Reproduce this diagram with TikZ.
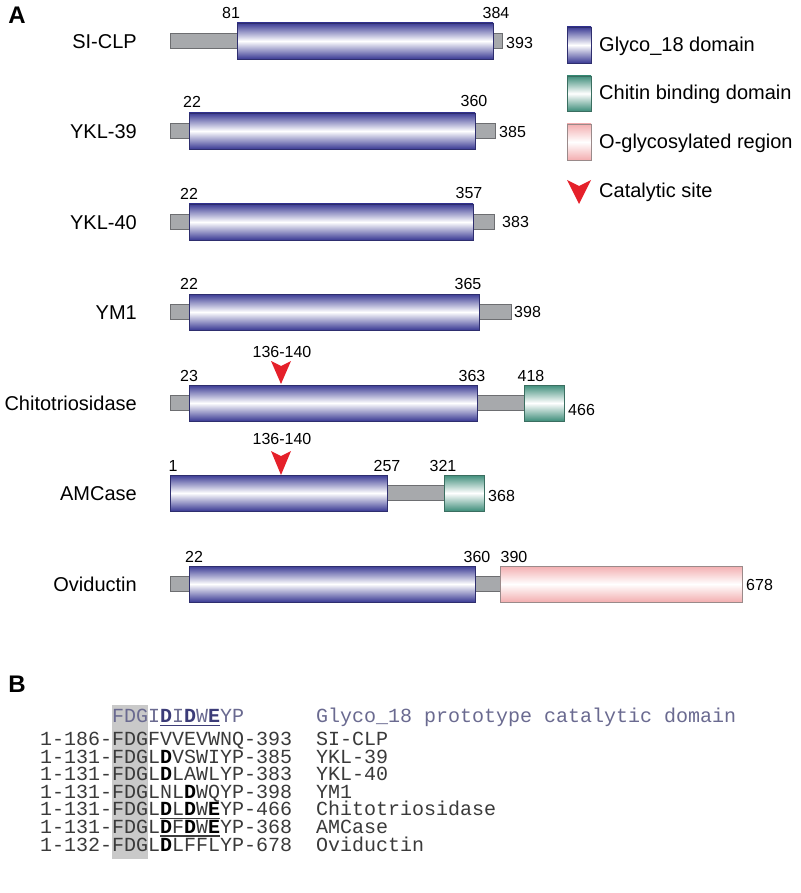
\documentclass[tikz,border=0pt]{standalone}
\usepackage{fontspec}
\setmainfont{Liberation Sans}
\setmonofont{Liberation Mono}
\definecolor{glyD}{HTML}{3A3A94}
\definecolor{glyB}{HTML}{2E2E6E}
\definecolor{chiD}{HTML}{3F8E7B}
\definecolor{chiB}{HTML}{3A6E60}
\definecolor{ogD}{HTML}{F3AEB0}
\definecolor{ogB}{HTML}{9A8A8A}
\definecolor{lnkF}{HTML}{A7A9AC}
\definecolor{lnkB}{HTML}{6D6E71}
\definecolor{catR}{HTML}{E5202A}
\definecolor{protoC}{HTML}{6A6A90}
\definecolor{protoB}{HTML}{3C3C78}
\definecolor{seqC}{HTML}{3A3A3A}
\definecolor{boxG}{HTML}{C9C9C9}
\begin{document}
\begin{tikzpicture}[x=1pt,y=-1pt,
  lbl/.style={font=\fontsize{20}{24}\selectfont, anchor=east, inner sep=0, text height=14.3pt, text depth=0pt},
  leg/.style={font=\fontsize{20}{24}\selectfont, anchor=west, inner sep=0, text height=14.3pt, text depth=0pt},
  num/.style={font=\fontsize{16}{19}\selectfont, inner sep=0, text height=11.5pt, text depth=0pt},
  panel/.style={font=\fontsize{24}{28}\selectfont\bfseries, inner sep=0},
  linker/.style={draw=lnkB, fill=lnkF, line width=0.8pt},
  glyco/.style={draw=glyB, top color=glyD, bottom color=glyD, middle color=white, line width=0.8pt},
  chitin/.style={draw=chiB, top color=chiD, bottom color=chiD, middle color=white, line width=0.8pt},
  oglyc/.style={draw=ogB, top color=ogD, bottom color=ogD, middle color=white, line width=0.8pt},
  cat/.style={fill=catR},
  seq/.style={font=\fontsize{20}{24}\selectfont\ttfamily, text=seqC, anchor=base west, inner sep=0, text height=12pt, text depth=2.5pt},
  uline/.style={line width=1.3pt},
]
\useasboundingbox (0,0) rectangle (800,893);

% Panel labels
\node[panel] (pA) at (17,15) {A};
\node[panel] (pB) at (17,684) {B};

% SI-CLP
\node[lbl] (l1) at (137,41) {SI-CLP};
\draw[linker] (170,33.5) rectangle (502,48.5);
\draw[glyco] (237,23) rectangle (493,59);
\node[num] (a1) at (231,13) {81};
\node[num] (b1) at (496,13) {384};
\node[num,anchor=west] (e1) at (506,43) {393};

% YKL-39
\node[lbl] (l2) at (137,131) {YKL-39};
\draw[linker] (170,123.5) rectangle (495,138.5);
\draw[glyco] (189,113) rectangle (475,149);
\node[num] (a2) at (192,102) {22};
\node[num] (b2) at (474,101) {360};
\node[num,anchor=west] (e2) at (499,132) {385};

% YKL-40
\node[lbl] (l3) at (137,222) {YKL-40};
\draw[linker] (170,214.5) rectangle (494,229.5);
\draw[glyco] (189,204) rectangle (473,240);
\node[num] (a3) at (189,194) {22};
\node[num] (b3) at (469,193) {357};
\node[num,anchor=west] (e3) at (502,222) {383};

% YM1
\node[lbl] (l4) at (137,312) {YM1};
\draw[linker] (170,304.5) rectangle (511,319.5);
\draw[glyco] (189,294) rectangle (479,330);
\node[num] (a4) at (189,284) {22};
\node[num] (b4) at (468,284) {365};
\node[num,anchor=west] (e4) at (514,312) {398};

% Chitotriosidase
\node[lbl] (l5) at (137,403) {Chitotriosidase};
\draw[linker] (170,395.5) rectangle (524,410.5);
\draw[glyco] (189,385) rectangle (477,421);
\draw[chitin] (524,385) rectangle (564,421);
\node[num] (a5) at (189,376) {23};
\node[num] (b5) at (472,376) {363};
\node[num] (c5) at (531,376) {418};
\node[num,anchor=west] (e5) at (568,410) {466};
\node[num] (s5) at (282,352) {136-140};
\fill[cat] (271,361) -- (281,384) -- (291,361) -- (281,366) -- cycle;

% AMCase
\node[lbl] (l6) at (137,493) {AMCase};
\draw[linker] (170,485.5) rectangle (444,500.5);
\draw[glyco] (170,475) rectangle (387,511);
\draw[chitin] (444,475) rectangle (484,511);
\node[num] (a6) at (173,466) {1};
\node[num] (b6) at (387,466) {257};
\node[num] (c6) at (443,466) {321};
\node[num,anchor=west] (e6) at (488,496) {368};
\node[num] (s6) at (282,439) {136-140};
\fill[cat] (271,451) -- (281,475) -- (291,451) -- (281,456) -- cycle;

% Oviductin
\node[lbl] (l7) at (137,584) {Oviductin};
\draw[linker] (170,576.5) rectangle (500,591.5);
\draw[glyco] (189,566) rectangle (475,602);
\draw[oglyc] (500,566) rectangle (742,602);
\node[num] (a7) at (194,557) {22};
\node[num] (b7) at (477,557) {360};
\node[num] (c7) at (514,557) {390};
\node[num,anchor=west] (e7) at (746,585) {678};

% Legend
\draw[glyco] (567,27) rectangle (591,63);
\node[leg] (g1) at (599,44) {Glyco\_18 domain};
\draw[chitin] (567,76) rectangle (591,111);
\node[leg] (g2) at (599,92) {Chitin binding domain};
\draw[oglyc] (567,124) rectangle (591,160);
\node[leg] (g3) at (599,141) {O-glycosylated region};
\fill[cat] (567,180) -- (579,204) -- (591,180) -- (579,186) -- cycle;
\node[leg] (g4) at (599,190) {Catalytic site};

% Panel B alignment
\fill[boxG] (112,705) rectangle (148,859);
\node[seq, text=protoC] (q0) at (112,722) {FDGI\textbf{\color{protoB}D}I\textbf{\color{protoB}D}W\textbf{\color{protoB}E}YP};
\node[seq, text=protoC] (n0) at (316,722) {Glyco\_18 prototype catalytic domain};
\draw[uline, protoB] (160,725.5) -- (220,725.5);

\node[seq] (q1) at (40,745.5) {1-186-FDGFVVEVWNQ-393};
\node[seq] (n1) at (316,745.5) {SI-CLP};
\node[seq] (q2) at (40,763.1) {1-131-FDGL\textbf{\color{black}D}VSWIYP-385};
\node[seq] (n2) at (316,763.1) {YKL-39};
\node[seq] (q3) at (40,780.7) {1-131-FDGL\textbf{\color{black}D}LAWLYP-383};
\node[seq] (n3) at (316,780.7) {YKL-40};
\node[seq] (q4) at (40,798.3) {1-131-FDGLNL\textbf{\color{black}D}WQYP-398};
\node[seq] (n4) at (316,798.3) {YM1};
\node[seq] (q5) at (40,815.9) {1-131-FDGL\textbf{\color{black}D}L\textbf{\color{black}D}W\textbf{\color{black}E}YP-466};
\node[seq] (n5) at (316,815.9) {Chitotriosidase};
\draw[uline, seqC] (160,818.5) -- (220,818.5);
\node[seq] (q6) at (40,833.5) {1-131-FDGL\textbf{\color{black}D}F\textbf{\color{black}D}W\textbf{\color{black}E}YP-368};
\node[seq] (n6) at (316,833.5) {AMCase};
\draw[uline, seqC] (160,836.1) -- (220,836.1);
\node[seq] (q7) at (40,851.1) {1-132-FDGL\textbf{\color{black}D}LFFLYP-678};
\node[seq] (n7) at (316,851.1) {Oviductin};
\end{tikzpicture}
\end{document}
